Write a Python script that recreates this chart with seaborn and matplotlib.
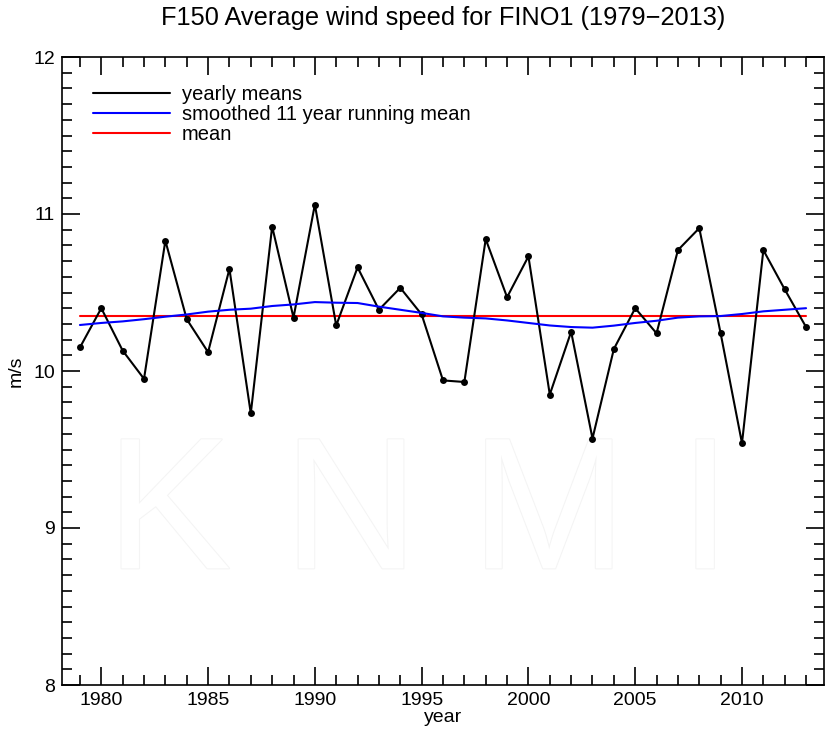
import matplotlib
matplotlib.use("Agg")
import matplotlib.pyplot as plt
import matplotlib.patheffects as pe
from matplotlib.lines import Line2D
from matplotlib.ticker import MultipleLocator
import seaborn as sns
import pandas as pd

years = list(range(1979, 2014))
yearly_means = [10.15, 10.40, 10.13, 9.95, 10.83, 10.33, 10.12, 10.65, 9.73, 10.92,
                10.34, 11.06, 10.29, 10.66, 10.39, 10.53, 10.36, 9.94, 9.93, 10.84,
                10.47, 10.73, 9.85, 10.25, 9.57, 10.14, 10.40, 10.24, 10.77, 10.91,
                10.24, 9.54, 10.77, 10.52, 10.28]
running_mean = [10.293, 10.306, 10.316, 10.330, 10.346, 10.360, 10.378, 10.390, 10.397, 10.414,
                10.424, 10.439, 10.435, 10.433, 10.410, 10.390, 10.370, 10.348, 10.340, 10.335,
                10.322, 10.306, 10.290, 10.280, 10.276, 10.289, 10.306, 10.320, 10.340, 10.348,
                10.350, 10.363, 10.380, 10.390, 10.400]
overall_mean = 10.348

df = pd.DataFrame({"year": years, "yearly": yearly_means, "smooth": running_mean})
df["mean"] = overall_mean

sns.set_style("ticks")
plt.rcParams["font.family"] = ["Liberation Sans", "DejaVu Sans"]
plt.rcParams["text.color"] = "black"
plt.rcParams["axes.labelcolor"] = "black"
plt.rcParams["xtick.color"] = "black"
plt.rcParams["ytick.color"] = "black"

fig = plt.figure(figsize=(8.3, 7.41), dpi=100)
ax = fig.add_axes([62 / 830, 1 - 685 / 741, (824 - 62) / 830, (685 - 57) / 741])

# very faint KNMI watermark
ax.text(0.468, 0.263, "K N M I", transform=ax.transAxes, ha="center", va="center",
        fontsize=135, color="white", zorder=0,
        path_effects=[pe.withStroke(linewidth=1.5, foreground="#f4f4f4")])

sns.lineplot(data=df, x="year", y="yearly", color="black", lw=1.5, marker="o",
             markersize=5, markeredgewidth=0, ax=ax, zorder=3, legend=False)
sns.lineplot(data=df, x="year", y="smooth", color="blue", lw=1.5, ax=ax, zorder=4, legend=False)
sns.lineplot(data=df, x="year", y="mean", color="red", lw=1.5, ax=ax, zorder=2, legend=False)

ax.set_xlim(1978.16, 2013.84)
ax.set_ylim(8, 12)
ax.xaxis.set_major_locator(MultipleLocator(5))
ax.xaxis.set_minor_locator(MultipleLocator(1))
ax.yaxis.set_major_locator(MultipleLocator(1))
ax.yaxis.set_minor_locator(MultipleLocator(0.1))
ax.tick_params(which="both", direction="in", top=True, right=True, labelsize=14, width=1.2)
ax.tick_params(which="major", length=13, pad=5)
ax.tick_params(which="minor", length=7)
for s in ax.spines.values():
    s.set_linewidth(1.2)
    s.set_color("black")

ax.set_xlabel("year", fontsize=14, labelpad=0)
ax.set_ylabel("m/s", fontsize=14, labelpad=6)
ax.set_title("F150 Average wind speed for FINO1 (1979\u22122013)", fontsize=18.3, pad=23)

handles = [Line2D([], [], color="black", lw=1.5),
           Line2D([], [], color="blue", lw=1.5),
           Line2D([], [], color="red", lw=1.5)]
labels = ["yearly means", "smoothed 11 year running mean", "mean"]
ax.legend(handles, labels, loc="upper left", bbox_to_anchor=(0.041, 0.956), frameon=False,
          fontsize=14.5, handlelength=3.8, borderaxespad=0, borderpad=0,
          labelspacing=0.06, handletextpad=0.6)

fig.savefig("out.png", dpi=100)
